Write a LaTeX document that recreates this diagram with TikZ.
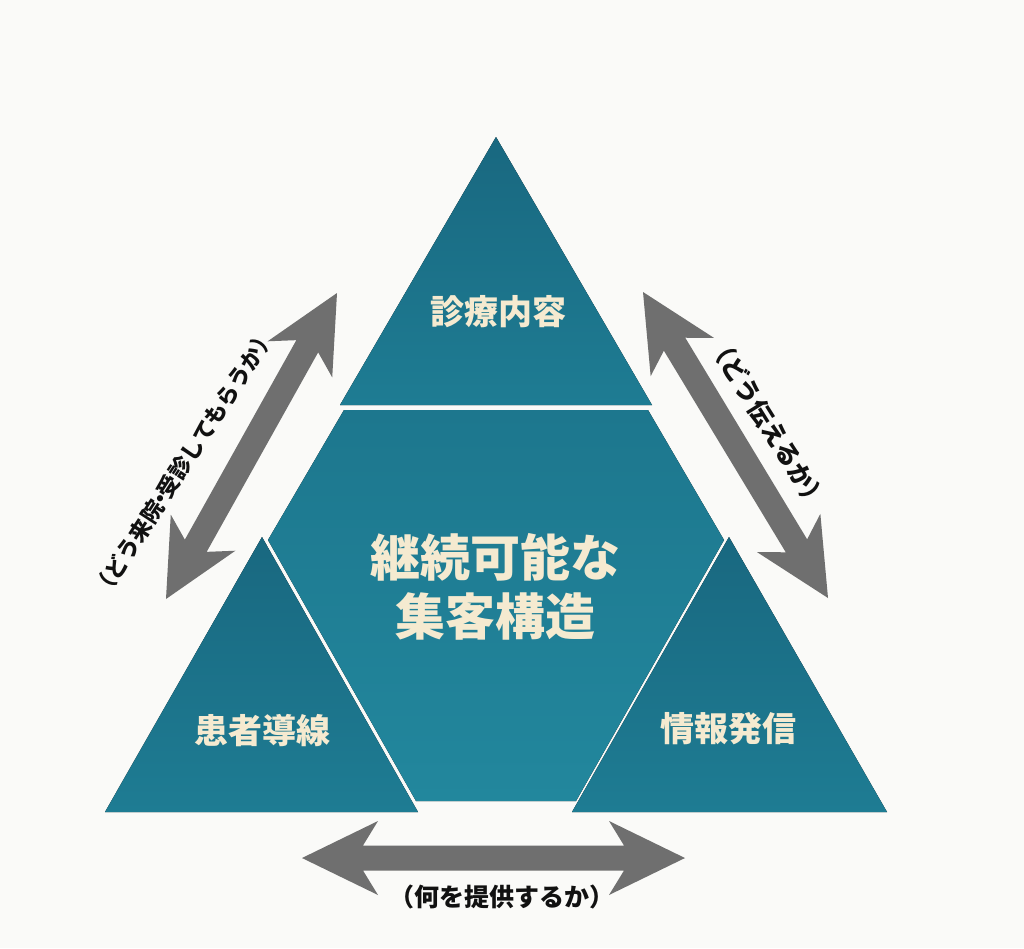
\documentclass[tikz,border=0pt]{standalone}
\usepackage{fontspec}
\newfontfamily\jp{Noto Sans CJK JP}
\usetikzlibrary{calc}
\definecolor{bg}{HTML}{FAFAF8}
\definecolor{tealA}{HTML}{196880}
\definecolor{tealB}{HTML}{1E7C93}
\definecolor{tealC}{HTML}{22879D}
\definecolor{tealD}{HTML}{1D778E}
\definecolor{cream}{HTML}{F5EAD0}
\definecolor{agray}{HTML}{6F6F6F}
\definecolor{ink}{HTML}{111111}
\newcommand\arrowHL{76pt}
\newcommand\arrowHJ{61pt}
\newcommand\arrowHW{37pt}
\newcommand\arrowSW{12.5pt}
\newcommand\dblarrow[2]{%
  \fill[agray] (#1)
  -- ($ ($(#1)!\arrowHL!(#2)$)!\arrowHW!90:(#2) $)
  -- ($ ($(#1)!\arrowHJ!(#2)$)!\arrowSW!90:(#2) $)
  -- ($ ($(#2)!\arrowHJ!(#1)$)!\arrowSW!-90:(#1) $)
  -- ($ ($(#2)!\arrowHL!(#1)$)!\arrowHW!-90:(#1) $)
  -- (#2)
  -- ($ ($(#2)!\arrowHL!(#1)$)!\arrowHW!90:(#1) $)
  -- ($ ($(#2)!\arrowHJ!(#1)$)!\arrowSW!90:(#1) $)
  -- ($ ($(#1)!\arrowHJ!(#2)$)!\arrowSW!-90:(#2) $)
  -- ($ ($(#1)!\arrowHL!(#2)$)!\arrowHW!-90:(#2) $)
  -- cycle;}
\tikzset{
  piece/.style={top color=tealA, bottom color=tealB},
  hexpiece/.style={top color=tealD, bottom color=tealC},
  smalllbl/.style={text=cream, font=\jp\bfseries\fontsize{34}{40}\selectfont, inner sep=0pt},
  biglbl/.style={text=cream, font=\jp\bfseries\fontsize{50}{59}\selectfont, align=center, inner sep=0pt},
  arrlbl/.style={text=ink, font=\jp\bfseries\fontsize{#1}{#1}\selectfont, inner sep=0pt},
}
\begin{document}
\begin{tikzpicture}[x=1pt,y=-1pt]
\fill[bg] (0,0) rectangle (1024,948);
\useasboundingbox (0,0) rectangle (1024,948);

% corner triangles and central hexagon
\fill[piece] (496,137) -- (652,405) -- (340,405) -- cycle;
\fill[piece] (262,537) -- (418,812) -- (105,812) -- cycle;
\fill[piece] (729,537) -- (887,812) -- (572,812) -- cycle;
\fill[hexpiece] (344,410) -- (648,410) -- (724,540) -- (576,801) -- (416,801) -- (268,540) -- cycle;

% labels
\node[smalllbl] (shinryo) at (498,312) {診療内容};
\node[smalllbl] (kanja) at (262,731) {患者導線};
\node[smalllbl] (joho) at (728,729) {情報発信};
\node[biglbl] (core) at (495,587) {継続可能な\\集客構造};

% arrows
\coordinate (lt) at (337,293);
\coordinate (lb) at (166,599);
\coordinate (rt) at (643,292);
\coordinate (rb) at (828,598);
\coordinate (bl) at (302,858);
\coordinate (br) at (685,858);
\dblarrow{lt}{lb}
\dblarrow{rt}{rb}
\dblarrow{bl}{br}

\node[arrlbl=22, rotate=57] (lA) at (184,463) {（どう来院\kern-0.3em・\kern-0.3em受診してもらうか）};
\node[arrlbl=25, rotate=-58] (lB) at (768,423) {（どう伝えるか）};
\node[arrlbl=25] (lC) at (502,897) {（何を提供するか）};
\end{tikzpicture}
\end{document}
